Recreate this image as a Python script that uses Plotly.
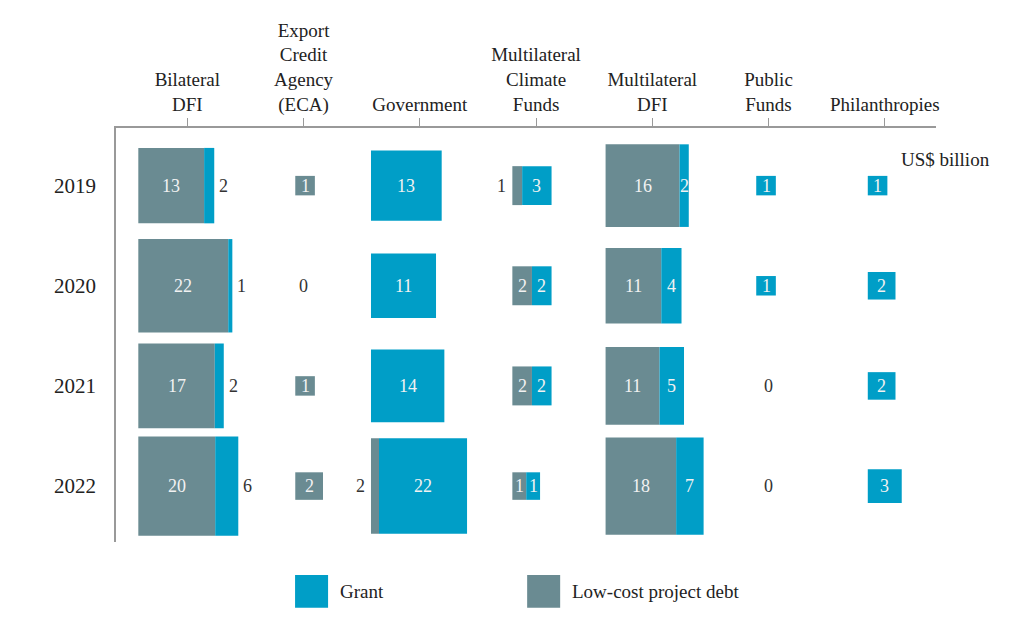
import math
import plotly.graph_objects as go

# values in US$ billion, one entry per year
years = ["2019", "2020", "2021", "2022"]
sources = ["Bilateral<br>DFI", "Export<br>Credit<br>Agency<br>(ECA)", "Government",
           "Multilateral<br>Climate<br>Funds", "Multilateral<br>DFI", "Public<br>Funds", "Philanthropies"]

debt_bilateral_dfi = [13, 22, 17, 20]
grant_bilateral_dfi = [2, 1, 2, 6]
debt_eca = [1, 0, 1, 2]
grant_eca = [0, 0, 0, 0]
debt_government = [0, 0, 0, 2]
grant_government = [13, 11, 14, 22]
debt_climate_funds = [1, 2, 2, 1]
grant_climate_funds = [3, 2, 2, 1]
debt_multilateral_dfi = [16, 11, 11, 18]
grant_multilateral_dfi = [2, 4, 5, 7]
debt_public_funds = [0, 0, 0, 0]
grant_public_funds = [1, 1, 0, 0]
debt_philanthropies = [0, 0, 0, 0]
grant_philanthropies = [1, 2, 2, 3]

debt = [debt_bilateral_dfi, debt_eca, debt_government, debt_climate_funds,
        debt_multilateral_dfi, debt_public_funds, debt_philanthropies]
grant = [grant_bilateral_dfi, grant_eca, grant_government, grant_climate_funds,
         grant_multilateral_dfi, grant_public_funds, grant_philanthropies]

GRANT_COLOR = "#009ec7"
DEBT_COLOR = "#6a8b92"
FONT = "Times New Roman, Tinos, DejaVu Serif"

# layout geometry: axis unit = side of a square worth US$1bn
PX = 19.6
COL_GAP = 116.2 / PX
ROW_GAP = 100.8 / PX
box_left = [v / PX for v in (-49, -8.3, -48.8, -23.7, -46.7, -12.3, -17)]
grant_outside = {0}          # bilateral DFI grants labelled to the right
MIN_INSIDE = 0.6             # narrower debt strips get their label outside

fig = go.Figure()
shapes, notes = [], []

def note(x, y, text, inside, anchor="center"):
    notes.append(dict(x=x, y=y, text=text, showarrow=False, xanchor=anchor, yanchor="middle",
                      font=dict(size=18, color="#f2f2f2" if inside else "#333333", family=FONT)))

for c in range(len(sources)):
    cx = c * COL_GAP
    for r in range(len(years)):
        cy = r * ROW_GAP
        d, g = debt[c][r], grant[c][r]
        total = d + g
        if total == 0:
            note(cx, cy, "0", False)
            continue
        side = math.sqrt(total)
        x0 = cx + box_left[c]
        xm = x0 + side * d / total
        x1 = x0 + side
        y0, y1 = cy - side / 2, cy + side / 2
        if d:
            shapes.append(dict(type="rect", xref="x", yref="y", x0=x0, x1=xm, y0=y0, y1=y1,
                               fillcolor=DEBT_COLOR, line=dict(width=0), layer="below"))
            if xm - x0 >= MIN_INSIDE or not g:
                note((x0 + xm) / 2, cy, str(d), True)
            else:
                note(x0 - 0.2, cy, str(d), False, "right")
        if g:
            shapes.append(dict(type="rect", xref="x", yref="y", x0=xm, x1=x1, y0=y0, y1=y1,
                               fillcolor=GRANT_COLOR, line=dict(width=0), layer="below"))
            if c in grant_outside:
                note(x1 + 0.15, cy, str(g), False, "left")
            else:
                note((xm + x1) / 2, cy, str(g), True)

# invisible trace so the axes render
fig.add_trace(go.Scatter(x=[0], y=[0], mode="markers", marker=dict(opacity=0), hoverinfo="skip", showlegend=False))

# legend, drawn by hand (paper coordinates relative to the plot area)
W, H = 819.7, 416.7
def px_x(p): return (p - 116) / W
def px_y(p): return -(p - 541.7) / H
for x_px, color, label in ((295, GRANT_COLOR, "Grant"), (527, DEBT_COLOR, "Low-cost project debt")):
    shapes.append(dict(type="rect", xref="paper", yref="paper", x0=px_x(x_px), x1=px_x(x_px + 33),
                       y0=px_y(608), y1=px_y(575), fillcolor=color, line=dict(width=0)))
    notes.append(dict(xref="paper", yref="paper", x=px_x(x_px + 43), y=px_y(592), text=label, showarrow=False,
                      xanchor="left", yanchor="middle", font=dict(size=19, color="#222222", family=FONT)))

notes.append(dict(xref="paper", yref="paper", x=px_x(992), y=px_y(157), text="US$ billion", showarrow=False,
                  xanchor="right", yanchor="middle", font=dict(size=19, color="#222222", family=FONT)))

# page body adds ~8px offset, so the figure is drawn 8px smaller on each axis
fig.update_layout(
    width=1008, height=619, margin=dict(l=108, r=80, t=117, b=85),
    paper_bgcolor="white", plot_bgcolor="white", shapes=shapes, annotations=notes,
    font=dict(family=FONT, color="#222222"),
    xaxis=dict(side="top", range=[(116 - 187.3) / PX, (935.7 - 187.3) / PX],
               tickvals=[c * COL_GAP for c in range(len(sources))], ticktext=sources,
               tickfont=dict(size=19, color="#222222", family=FONT),
               ticks="outside", ticklen=8, tickcolor="#999999", tickwidth=1,
               showline=True, linecolor="#999999", linewidth=1.5, showgrid=False, zeroline=False, fixedrange=True),
    yaxis=dict(range=[(541.7 - 183) / PX, (125 - 183) / PX],
               tickvals=[r * ROW_GAP for r in range(len(years))], ticktext=years,
               tickfont=dict(size=21, color="#222222", family=FONT),
               ticks="", ticklabelstandoff=14,
               showline=True, linecolor="#999999", linewidth=1.5, showgrid=False, zeroline=False, fixedrange=True),
)

fig.write_html("out.html")
